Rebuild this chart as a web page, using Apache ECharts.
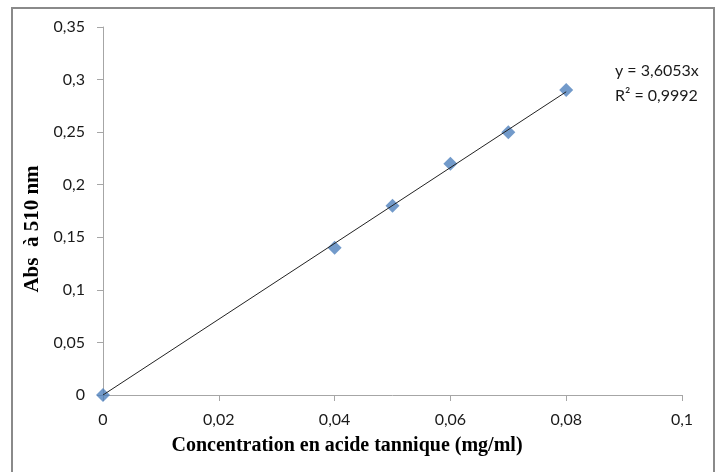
<!DOCTYPE html>
<html>
<head>
<meta charset="utf-8">
<script src="https://cdn.jsdelivr.net/npm/echarts@6/dist/echarts.min.js"></script>
<style>html,body{margin:0;padding:0;background:#fff}#c{width:728px;height:472px}</style>
</head>
<body>
<div id="c"></div>
<script>
const concentration = [0, 0.04, 0.05, 0.06, 0.07, 0.08];
const absorbance = [0, 0.14, 0.18, 0.22, 0.25, 0.29];
const trendX = [0, 0.08];
const trendY = [0, 0.2884];
const xTicks = [0, 0.02, 0.04, 0.06, 0.08, 0.1];
const yTicks = [0, 0.05, 0.1, 0.15, 0.2, 0.25, 0.3, 0.35];
const equationText = 'y = 3,6053x';
const r2Text = 'R² = 0,9992';
const xTitle = 'Concentration en acide tannique (mg/ml)';
const yTitle = 'Abs  à 510 nm';

const fmt = v => String(Math.round(v * 1000) / 1000).replace('.', ',');
const chart = echarts.init(document.getElementById('c'));
const tickFont = { fontFamily: 'Lato, "Open Sans", sans-serif', fontSize: 16, color: '#1a1a1a' };
chart.setOption({
  animation: false,
  backgroundColor: '#fff',
  grid: { left: 103, right: 46, top: 27, bottom: 77 },
  xAxis: {
    type: 'value', min: xTicks[0], max: xTicks[xTicks.length - 1], interval: 0.02,
    axisLine: { show: true, lineStyle: { color: '#a6a6a6', width: 1 } },
    axisTick: { show: true, length: 6, lineStyle: { color: '#a6a6a6' } },
    splitLine: { show: false },
    axisLabel: Object.assign({ margin: 17, formatter: fmt }, tickFont)
  },
  yAxis: {
    type: 'value', min: yTicks[0], max: yTicks[yTicks.length - 1], interval: 0.05,
    axisLine: { show: true, lineStyle: { color: '#a6a6a6', width: 1 } },
    axisTick: { show: true, length: 6, lineStyle: { color: '#a6a6a6' } },
    splitLine: { show: false },
    axisLabel: Object.assign({ margin: 18, formatter: fmt }, tickFont)
  },
  graphic: [
    { type: 'polyline', shape: { points: [[12, 472], [12, 8], [714, 8], [714, 472]] },
      style: { stroke: '#8a8a8a', lineWidth: 2, fill: null }, silent: true },
    { type: 'text', left: 615, top: 63, style: { text: equationText, font: '16px Lato, "Open Sans", sans-serif', fill: '#1a1a1a' } },
    { type: 'text', left: 615, top: 88, style: { text: r2Text, font: '16px Lato, "Open Sans", sans-serif', fill: '#1a1a1a' } },
    { type: 'text', x: 347, y: 446, style: { text: xTitle, align: 'center', verticalAlign: 'middle', font: 'bold 20px "Liberation Serif", serif', fill: '#000' } },
    { type: 'text', x: 33, y: 229, rotation: Math.PI / 2, style: { text: yTitle, align: 'center', verticalAlign: 'middle', font: 'bold 21px "Liberation Serif", serif', fill: '#000' } }
  ],
  series: [
    { type: 'line', data: trendX.map((x, i) => [x, trendY[i]]), symbol: 'none',
      lineStyle: { color: '#222', width: 1 }, z: 3 },
    { type: 'scatter', data: concentration.map((x, i) => [x, absorbance[i]]),
      symbol: 'diamond', symbolSize: 14, itemStyle: { color: '#4f81bd' }, z: 2 }
  ]
});
</script>
</body>
</html>
